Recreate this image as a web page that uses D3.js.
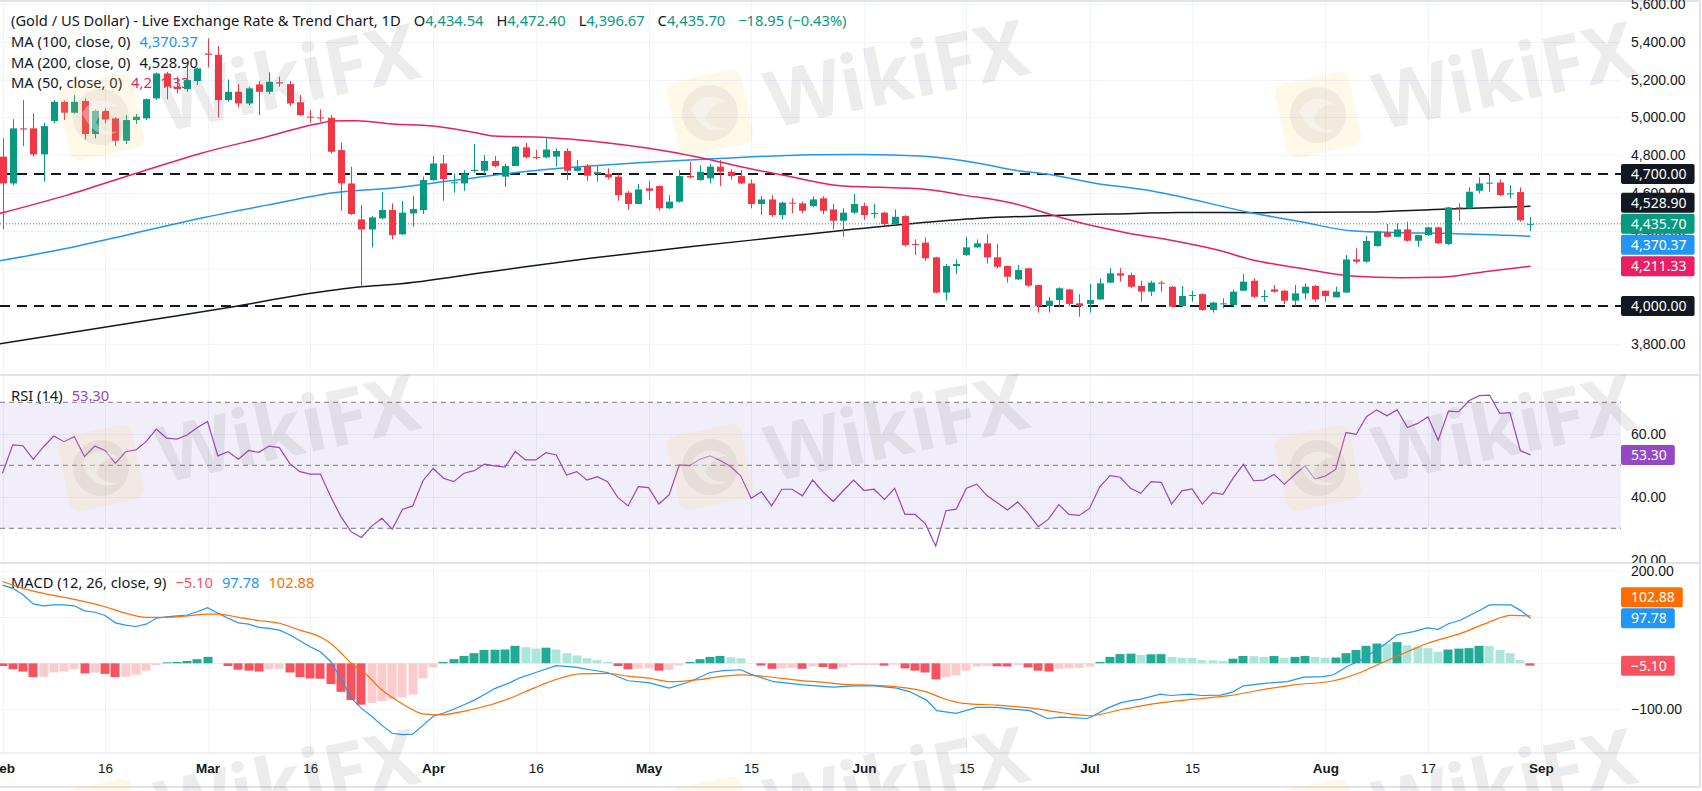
<!DOCTYPE html>
<html>
<head>
<meta charset="utf-8">
<script src="https://cdn.jsdelivr.net/npm/d3@7"></script>
<style>
  body { margin: 0; background: #fff; overflow: hidden; }
  svg { display: block; font-family: "Noto Sans", Roboto, sans-serif; }
</style>
</head>
<body>
<svg id="chart" width="1702" height="791"></svg>
<script>
// ---- data ----
// bar index 0 = Feb 2, one bar per trading day, 149 = Aug 31
const tickIdx = [0, 10, 20, 30, 42, 52, 63, 73, 84, 94, 106, 116, 129, 139, 150];
const tickLabels = ["Feb", "16", "Mar", "16", "Apr", "16", "May", "15", "Jun", "15", "Jul", "15", "Aug", "17", "Sep"];

// [open, high, low, close]
const candles = [
  [4792,4889,4406,4650],[4650,4991,4640,4942],[4942,5092,4848,4936],[4942,5021,4792,4804],[4804,4972,4659,4954],
  [4981,5092,4968,5083],[5083,5090,4986,5025],[5025,5118,5021,5083],[5087,5101,4883,4912],[4912,5042,4889,5035],
  [5035,5053,4968,4989],[4995,5000,4848,4876],[4876,5012,4859,4986],[4986,5018,4965,5004],[4995,5101,4986,5097],
  [5101,5237,5092,5233],[5233,5242,5095,5163],[5163,5216,5127,5150],[5150,5269,5136,5198],[5193,5265,5171,5260],
  [5339,5419,5265,5332],[5332,5378,5000,5092],[5092,5201,5083,5136],[5136,5177,5053,5074],[5074,5163,5065,5154],
  [5175,5194,5012,5136],[5136,5239,5124,5189],[5186,5216,5163,5180],[5177,5193,5060,5074],[5080,5118,5009,5012],
  [5004,5039,4972,5000],[5000,5042,4977,4998],[4998,5012,4809,4818],[4827,4866,4505,4650],[4650,4739,4482,4488],
  [4459,4535,4102,4406],[4406,4477,4311,4470],[4465,4606,4459,4509],[4509,4544,4353,4376],[4380,4557,4376,4495],
  [4491,4583,4420,4514],[4509,4686,4488,4668],[4668,4795,4664,4756],[4756,4800,4558,4673],[4652,4703,4601,4656],
  [4650,4721,4611,4703],[4717,4859,4707,4721],[4717,4800,4700,4769],[4769,4795,4735,4742],[4686,4753,4632,4742],
  [4742,4848,4742,4845],[4841,4866,4783,4788],[4790,4827,4777,4786],[4788,4889,4783,4830],[4792,4836,4739,4822],
  [4822,4836,4668,4717],[4717,4774,4714,4735],[4742,4753,4664,4691],[4700,4742,4659,4710],[4700,4730,4671,4682],
  [4686,4700,4558,4588],[4601,4611,4509,4541],[4541,4647,4541,4618],[4624,4664,4562,4611],[4636,4640,4505,4518],
  [4518,4588,4514,4553],[4553,4721,4548,4689],[4689,4765,4677,4682],[4668,4747,4664,4712],[4677,4753,4650,4739],
  [4739,4774,4636,4712],[4712,4724,4671,4689],[4689,4721,4647,4650],[4650,4671,4518,4541],[4541,4583,4482,4565],
  [4565,4588,4473,4482],[4482,4553,4459,4548],[4548,4571,4491,4544],[4544,4553,4491,4505],[4530,4580,4523,4565],
  [4571,4583,4486,4505],[4512,4541,4406,4452],[4452,4518,4367,4495],[4495,4594,4488,4541],[4530,4548,4456,4482],
  [4489,4541,4465,4493],[4495,4500,4429,4435],[4435,4512,4430,4473],[4477,4482,4315,4323],[4329,4353,4270,4325],
  [4336,4364,4240,4253],[4258,4261,4067,4071],[4071,4223,4028,4212],[4212,4247,4170,4223],[4270,4367,4265,4311],
  [4311,4353,4306,4332],[4332,4380,4226,4258],[4258,4329,4200,4208],[4212,4214,4124,4155],[4141,4217,4138,4191],
  [4200,4202,4102,4108],[4111,4113,3965,4000],[4000,4049,3965,4028],[4032,4099,3993,4094],[4088,4090,4000,4011],
  [4014,4063,3943,4000],[4011,4117,3965,4032],[4035,4147,4032,4120],[4124,4200,4120,4173],[4173,4200,4129,4161],
  [4164,4177,4094,4102],[4106,4134,4023,4076],[4076,4134,4053,4124],[4124,4134,4076,4120],[4102,4106,3993,3996],
  [4000,4106,3993,4053],[4053,4081,4023,4058],[4063,4067,3975,3979],[3979,4023,3965,4018],[4011,4041,3988,4014],
  [4005,4088,4000,4076],[4081,4170,4081,4129],[4134,4147,4041,4049],[4051,4085,4023,4053],[4088,4111,4071,4076],
  [4081,4085,4011,4028],[4028,4111,4000,4067],[4067,4120,4035,4102],[4106,4111,4023,4035],[4081,4081,4023,4053],
  [4046,4102,4046,4076],[4071,4270,4071,4247],[4247,4306,4226,4235],[4235,4371,4230,4345],[4318,4399,4314,4394],
  [4390,4435,4364,4367],[4367,4438,4367,4406],[4406,4447,4341,4346],[4346,4376,4314,4376],[4376,4420,4371,4417],
  [4417,4420,4329,4332],[4329,4526,4323,4523],[4523,4544,4452,4518],[4518,4629,4512,4606],[4611,4682,4597,4650],
  [4652,4700,4606,4654],[4655,4671,4583,4588],[4594,4641,4571,4597],[4604,4629,4447,4454.65],[4434.54,4472.40,4396.67,4435.70]
];

// moving averages, [bar index, value]
const ma50 = [[-0.25,4491],[6.3,4588],[12.8,4700],[19.3,4809],[25.8,4898],[30.6,4965],[32.3,4981],[34.5,4982],[38,4965],
  [42,4954],[46,4920],[48,4901],[53,4894],[58,4871],[63,4836],[68,4788],[72,4739],[76.3,4692],[81.7,4638],[84,4632],
  [90.1,4618],[93.7,4588],[98.6,4544],[102.4,4482],[106,4429],[109.9,4385],[114.2,4346],[118.5,4297],[121.7,4247],
  [126.6,4200],[131.5,4159],[136.4,4150],[140,4152],[144.5,4182],[149,4211.33]];
const ma100 = [[-0.25,4240],[6.3,4306],[12.8,4385],[19.3,4465],[25.8,4535],[32.3,4601],[38.3,4627],[44.3,4668],
  [50.8,4712],[57.3,4742],[63.8,4765],[70.3,4783],[76.3,4798],[79,4802],[84,4804],[89.5,4795],[95.3,4756],[98.6,4721],
  [101.8,4700],[106.7,4650],[111.5,4615],[114.2,4587],[121.7,4495],[126.6,4447],[131.5,4399],[136.4,4389],[141.2,4385],
  [149,4370.37]];
const ma200 = [[-0.25,3800],[14.4,3926],[22.5,3996],[29,4058],[35,4102],[38.3,4115],[47.5,4182],[57.3,4253],[67,4314],
  [76.3,4368],[82.3,4403],[88.8,4438],[95.3,4465],[101.8,4479],[108.3,4488],[114.8,4496],[123,4495],[133,4498],
  [139.6,4512],[149,4528.9]];

const levels = [4700, 4000];

// RSI(14), one value per bar
const rsi = [
  47.5,56.5,56.2,51.9,55.9,59.3,57.5,59.1,52.8,56.1, 54.7,50.6,54.3,54.9,57.5,61.5,58.6,58.3,59.6,62.0,
  63.9,53.0,54.3,51.9,54.7,54.1,56.1,55.6,50.6,48.0, 47.2,47.2,40.1,33.7,28.9,27.1,30.7,33.2,29.7,36.0,
  37.1,45.1,49.0,45.9,44.8,47.5,48.3,50.4,49.8,49.4, 54.4,51.7,51.7,54.0,53.3,46.9,48.0,45.3,46.4,44.8,
  39.8,37.1,43.2,42.9,37.7,40.6,50.1,49.9,51.9,53.0, 51.5,49.6,46.6,39.5,41.6,37.1,42.4,42.4,40.3,45.3,
  41.6,38.5,42.0,45.3,42.0,42.4,39.2,42.7,34.4,34.4, 31.4,24.4,35.6,36.1,42.7,44.0,40.4,38.1,35.8,38.4,
  34.8,30.5,32.9,37.5,34.4,34.1,36.3,43.2,46.7,46.2, 42.7,41.1,44.8,44.6,37.7,41.9,42.5,37.7,41.3,40.8,
  45.9,50.3,45.1,45.3,47.1,44.0,47.0,49.8,45.6,46.6, 48.7,60.4,59.8,65.4,67.6,65.7,67.6,62.0,63.3,65.4,
  58.0,67.2,67.0,70.5,72.1,72.3,66.5,66.7,54.7,53.3
];
const rsiLevels = [70, 50, 30];

// MACD(12,26,9)
const macdHist = [
  -6,-13,-18,-30,-29,-20,-18,-13,-22,-20, -23,-30,-29,-25,-16,-4,2,3,5,9,
  14,0.5,-6,-14,-16,-18,-13,-12.5,-20,-30, -33,-33.5,-45,-62,-80,-90,-86,-82,-78,-74,
  -68,-33,-9,3,9,16,22,29,29.5,30, 38,35,32,34,30,22,17,11,7,3,
  -6,-13,-12,-11,-16,-14,-4,3,9,14, 16,13,11,0.5,-5,-12,-11,-10,-12,-7,
  -8,-12,-9,-4,-3.8,-3.6,-5,-3,-11,-16, -20,-35,-30,-26,-16,-7,-6,-6.5,-7,-4,
  -9,-16,-18,-12,-11,-10,-7,3,14,20, 21,18,19.5,20,14,12,11.5,7,6.5,5,
  10,16,15.5,14,16,12,14,16,14,12, 12.5,22,29,38,43,42.5,46,39,36,33,
  25,30,32,33,38,37.5,29,22,7,-5.1
];
const macdLine = [[0,170],[1,163],[2,149],[3,129],[4,125],[5,127],[6,127],[7,125],[8,114],[9,111],[10,104],[11,88],
  [12,83],[13,80],[14,85],[15,98],[16,101],[17,103],[18,105],[19,112],[20,121],[21,109],[22,98],[23,88],[24,85],
  [25,78],[26,76],[27,72],[28,62],[29,49],[30,36],[31,25],[32,4],[33,-33],[34,-75],[35,-98],[36,-115],[37,-135],
  [38,-152],[39,-155],[40,-154],[41,-135],[42,-115],[43,-108],[44,-100],[45,-90],[46,-80],[47,-68],[48,-55],
  [49.5,-42],[50.5,-31],[52,-20],[54,-5],[56,-9],[57.3,-14],[59,-20],[61,-38],[63,-42],[65,-54],[67,-40],[69,-20],
  [70.3,-16],[72,-14],[73,-24],[75.2,-40],[78.1,-47],[81,-52],[83,-49],[85,-49],[87.2,-54],[88.5,-62],[90.1,-80],
  [91.1,-103],[93,-109],[95,-96],[97,-96],[98.2,-99],[100.2,-103],[101.9,-120],[103.2,-117],[105.8,-120],
  [106.4,-114],[107.7,-98],[109,-86],[110,-81],[111,-78],[112.9,-67],[113.9,-70],[115.8,-67],[116.8,-70],
  [118.8,-69],[120,-62],[121,-49],[123.3,-43],[125.3,-40],[126.9,-30],[128.8,-29],[129.8,-25],[131.1,-7],
  [132.4,6],[133.7,25],[134.7,40],[136,62],[137.6,69],[138.9,77],[140,74],[141,86],[142.2,94],[144.2,117],
  [145,127],[147.1,127],[148.1,114],[149,97.78]];
const signalLine = [[0,178],[2,163],[4,152],[7,139],[10,123],[12,109],[14,100],[16,100],[18,103],[20,107],[21,107],
  [23,100],[25,93],[27,87],[29,72],[31,57],[32,43],[33,23],[34,0],[35.5,-25],[37,-58],[38,-74],[39.5,-95],[41,-110],
  [42.6,-112],[45.7,-101],[49.5,-76],[51.8,-54],[54,-35],[56.3,-23],[59,-22],[61,-28],[63.2,-33],[65.1,-40],
  [67.7,-36],[70.3,-28],[72.2,-25],[74,-28],[78.1,-38],[80,-41],[82,-46],[85.2,-48],[87.2,-51],[90.1,-62],
  [91.7,-76],[93.7,-87],[97,-91],[100.2,-97],[103.2,-107],[106.1,-114],[109,-101],[112.9,-86],[116.2,-78],
  [119.4,-71],[122.7,-58],[125.9,-47],[129.8,-38],[132.4,-20],[134.4,0],[137,25],[138.9,43],[142.2,65],
  [144.8,88],[147.1,104],[149,102.88]];

// ---- layout ----
const W = 1702, H = 791;
const plotR = 1621;          // right edge of the plot, price scale starts here
const axisX = 1631;
const panes = { price: [0, 375], rsi: [375, 563], macd: [563, 753] };
const LEG = 14.7;            // legend font size

const UP = "#089981", DOWN = "#f23645";
const C_MA50 = "#e91e63", C_MA100 = "#2196f3", C_MA200 = "#131722";
const C_RSI = "#9448c4", C_MACD = "#2196f3", C_SIG = "#ff6d00";
const GRID = "#f0f3fa", BORDER = "#e0e3eb", TXT = "#131722";

const svg = d3.select("#chart");

const x = d3.scaleLinear().domain([0, 150]).range([2.5, 1540.75]);
const yP = d3.scaleLinear().domain([3800, 5600]).range([343.7, 4.3]);
const yR = d3.scaleLinear().domain([30, 70]).range([528.3, 402.3]);
const yM = d3.scaleLinear().domain([-100, 200]).range([709.3, 571.3]);

const defs = svg.append("defs");
function clip(id, x0, y0, w, h) {
  defs.append("clipPath").attr("id", id).append("rect").attr("x", x0).attr("y", y0).attr("width", w).attr("height", h);
  return "url(#" + id + ")";
}
const clipP = clip("cp", 0, 0, plotR, panes.price[1]);
const clipR = clip("cr", 0, panes.rsi[0], plotR, panes.rsi[1] - panes.rsi[0]);
const clipM = clip("cm", 0, panes.macd[0], plotR, panes.macd[1] - panes.macd[0]);
const clipPA = clip("cpa", plotR, 0, W - plotR, panes.price[1]);
const clipRA = clip("cra", plotR, panes.rsi[0], W - plotR, panes.rsi[1] - panes.rsi[0]);
const clipMA = clip("cma", plotR, panes.macd[0], W - plotR, panes.macd[1] - panes.macd[0]);

// ---- grid ----
const grid = svg.append("g").attr("stroke", GRID).attr("stroke-width", 1);
grid.selectAll("line.v").data(tickIdx).join("line")
  .attr("x1", d => Math.round(x(d)) + 0.5).attr("x2", d => Math.round(x(d)) + 0.5)
  .attr("y1", 0).attr("y2", panes.macd[1]);
const pGrid = d3.range(3800, 5601, 200);
grid.append("g").attr("clip-path", clipP).selectAll("line").data(pGrid).join("line")
  .attr("x1", 0).attr("x2", plotR).attr("y1", d => Math.round(yP(d)) + 0.5).attr("y2", d => Math.round(yP(d)) + 0.5);
grid.append("g").selectAll("line").data([60, 40]).join("line")
  .attr("x1", 0).attr("x2", plotR).attr("y1", d => Math.round(yR(d)) + 0.5).attr("y2", d => Math.round(yR(d)) + 0.5);
grid.append("g").selectAll("line").data([200, 100, 0, -100]).join("line")
  .attr("x1", 0).attr("x2", plotR).attr("y1", d => Math.round(yM(d)) + 0.5).attr("y2", d => Math.round(yM(d)) + 0.5);

// ---- legend (drawn under the candles, as in the picture) ----
const last = candles[candles.length - 1];
const prevClose = candles[candles.length - 2][3];
const chg = last[3] - prevClose;
const f2 = d3.format(",.2f");
const fmtSigned = v => (v < 0 ? "\u2212" : "") + d3.format(",.2f")(Math.abs(v));

const legend = svg.append("g").attr("font-size", LEG).attr("fill", TXT);
const head = legend.append("text").attr("x", 11).attr("y", 26);
head.append("tspan").text("(Gold / US Dollar) - Live Exchange Rate & Trend Chart, 1D");
[["O", last[0]], ["H", last[1]], ["L", last[2]], ["C", last[3]]].forEach(([k, v]) => {
  head.append("tspan").attr("dx", 13).text(k);
  head.append("tspan").attr("fill", UP).text(f2(v));
});
head.append("tspan").attr("dx", 13).attr("fill", UP)
  .text(fmtSigned(chg) + " (" + fmtSigned(chg / prevClose * 100) + "%)");

const maRows = [
  ["MA (100, close, 0)", ma100, C_MA100],
  ["MA (200, close, 0)", ma200, C_MA200],
  ["MA (50, close, 0)", ma50, C_MA50]
];
maRows.forEach(([label, arr, col], k) => {
  const t = legend.append("text").attr("x", 11).attr("y", 47 + k * 20.7);
  t.append("tspan").text(label);
  t.append("tspan").attr("dx", 9).attr("fill", col).text(f2(arr[arr.length - 1][1]));
});

const rsiLeg = legend.append("text").attr("x", 11).attr("y", 401);
rsiLeg.append("tspan").text("RSI (14)");
rsiLeg.append("tspan").attr("dx", 9).attr("fill", C_RSI).text(d3.format(".2f")(rsi[rsi.length - 1]));

const macdLeg = legend.append("text").attr("x", 11).attr("y", 588);
macdLeg.append("tspan").text("MACD (12, 26, close, 9)");
macdLeg.append("tspan").attr("dx", 9).attr("fill", "#f7525f").text(d3.format(".2f")(macdHist[macdHist.length - 1]));
macdLeg.append("tspan").attr("dx", 9).attr("fill", C_MACD).text(d3.format(".2f")(macdLine[macdLine.length - 1][1]));
macdLeg.append("tspan").attr("dx", 9).attr("fill", C_SIG).text(d3.format(".2f")(signalLine[signalLine.length - 1][1]));

// ---- price pane ----
const pg = svg.append("g").attr("clip-path", clipP);

pg.selectAll("line.lvl").data(levels).join("line")
  .attr("x1", 0).attr("x2", plotR).attr("y1", d => yP(d)).attr("y2", d => yP(d))
  .attr("stroke", "#131722").attr("stroke-width", 2).attr("stroke-dasharray", "10,7");

const maLine = d3.line().x(d => x(d[0])).y(d => yP(d[1])).curve(d3.curveMonotoneX);
[[ma200, C_MA200], [ma100, C_MA100], [ma50, C_MA50]].forEach(([arr, col]) => {
  pg.append("path").attr("d", maLine(arr)).attr("fill", "none").attr("stroke", col).attr("stroke-width", 1.5);
});

pg.append("line").attr("x1", 0).attr("x2", plotR)
  .attr("y1", yP(last[3])).attr("y2", yP(last[3]))
  .attr("stroke", UP).attr("stroke-width", 1).attr("stroke-dasharray", "1,2");

const cg = pg.selectAll("g.c").data(candles).join("g")
  .attr("fill", d => d[3] >= d[0] ? UP : DOWN).attr("stroke", d => d[3] >= d[0] ? UP : DOWN);
cg.append("line")
  .attr("x1", (d, i) => Math.round(x(i)) + 0.5).attr("x2", (d, i) => Math.round(x(i)) + 0.5)
  .attr("y1", d => yP(d[1])).attr("y2", d => yP(d[2])).attr("stroke-width", 1);
cg.append("rect")
  .attr("x", (d, i) => Math.round(x(i)) - 3).attr("width", 7)
  .attr("y", d => yP(Math.max(d[0], d[3])))
  .attr("height", d => Math.max(1, yP(Math.min(d[0], d[3])) - yP(Math.max(d[0], d[3]))))
  .attr("stroke", "none");

// ---- RSI pane ----
const rg = svg.append("g").attr("clip-path", clipR);
rg.append("rect").attr("x", 0).attr("width", plotR)
  .attr("y", yR(70)).attr("height", yR(30) - yR(70)).attr("fill", "rgba(126,87,194,0.1)");
rg.selectAll("line.l").data(rsiLevels).join("line")
  .attr("x1", 0).attr("x2", plotR).attr("y1", d => yR(d)).attr("y2", d => yR(d))
  .attr("stroke", "#787b86").attr("stroke-dasharray", "5,4");
rg.append("path").datum(rsi)
  .attr("d", d3.line().x((d, i) => x(i)).y(d => yR(d)))
  .attr("fill", "none").attr("stroke", C_RSI).attr("stroke-width", 1.2);

// ---- MACD pane ----
const mg = svg.append("g").attr("clip-path", clipM);
mg.selectAll("rect").data(macdHist).join("rect")
  .attr("x", (d, i) => Math.round(x(i)) - 4.5).attr("width", 9)
  .attr("y", d => Math.min(yM(d), yM(0)))
  .attr("height", d => Math.abs(yM(d) - yM(0)))
  .attr("fill", (d, i) => {
    const p = i > 0 ? macdHist[i - 1] : null;
    if (d >= 0) return (p === null || d > p) ? "#22ab94" : "#ace5dc";
    return (p === null || d < p) ? "#f7525f" : "#fccbcd";
  });
const mLine = d3.line().x(d => x(d[0])).y(d => yM(d[1]));
mg.append("path").attr("d", mLine(macdLine)).attr("fill", "none").attr("stroke", C_MACD).attr("stroke-width", 1.2);
mg.append("path").attr("d", mLine.curve(d3.curveMonotoneX)(signalLine)).attr("fill", "none").attr("stroke", C_SIG).attr("stroke-width", 1.2);

// ---- pane borders ----
const frame = svg.append("g").attr("stroke", BORDER).attr("stroke-width", 2);
frame.append("line").attr("x1", 0).attr("x2", W - 2).attr("y1", panes.rsi[0]).attr("y2", panes.rsi[0]);
frame.append("line").attr("x1", 0).attr("x2", W - 2).attr("y1", panes.macd[0]).attr("y2", panes.macd[0]);
frame.append("line").attr("x1", 0).attr("x2", W - 2).attr("y1", panes.macd[1]).attr("y2", panes.macd[1]).attr("stroke-width", 1);
frame.append("line").attr("x1", 0).attr("x2", W - 2).attr("y1", 1).attr("y2", 1);
frame.append("line").attr("x1", 0).attr("x2", W - 2).attr("y1", 787).attr("y2", 787);
frame.append("line").attr("x1", W - 2).attr("x2", W - 2).attr("y1", 1).attr("y2", 787);

// ---- right scales ----
function rightAxis(scale, ticks, clipUrl) {
  const g = svg.append("g").attr("clip-path", clipUrl).append("g")
    .attr("transform", "translate(" + axisX + ",0)")
    .call(d3.axisRight(scale).tickValues(ticks).tickSize(0).tickPadding(0).tickFormat(d3.format(",.2f")));
  g.select(".domain").remove();
  g.selectAll("text").attr("font-size", 14).attr("fill", TXT).attr("font-family", null);
}
rightAxis(yP, pGrid, clipPA);
rightAxis(yR, [20, 40, 60], clipRA);
rightAxis(yM, [-100, 0, 100, 200], clipMA);

// value tags on the scale; the anchored tag stays, others are pushed away from it
function tags(list, scale, anchor) {
  const items = list.map(d => ({ ...d, y: scale(d.v) })).sort((a, b) => a.y - b.y);
  const a = items.findIndex(d => d.v === anchor);
  for (let i = a - 1; i >= 0; i--) items[i].y = Math.min(items[i].y, items[i + 1].y - 21);
  for (let i = a + 1; i < items.length; i++) items[i].y = Math.max(items[i].y, items[i - 1].y + 21);
  const g = svg.append("g").selectAll("g").data(items).join("g")
    .attr("transform", d => "translate(" + plotR + "," + d.y + ")");
  g.append("text").attr("x", axisX - plotR).attr("dy", "0.35em")
    .attr("font-size", 14).attr("fill", "#fff").text(d => d.label);
  g.insert("rect", "text").attr("x", 0).attr("y", -10).attr("height", 20).attr("rx", 2)
    .attr("width", function () { return this.parentNode.querySelector("text").getComputedTextLength() + 18; })
    .attr("fill", d => d.bg);
}
const priceTagVals = [levels[0], ma200[ma200.length - 1][1], last[3], ma100[ma100.length - 1][1], ma50[ma50.length - 1][1], levels[1]];
const priceTagCols = ["#131722", "#131722", UP, C_MA100, C_MA50, "#131722"];
tags(priceTagVals.map((v, i) => ({ v, label: f2(v), bg: priceTagCols[i] })), yP, last[3]);
tags([{ v: rsi[rsi.length - 1], label: d3.format(".2f")(rsi[rsi.length - 1]), bg: C_RSI }], yR, rsi[rsi.length - 1]);
const mVals = [signalLine[signalLine.length - 1][1], macdLine[macdLine.length - 1][1], macdHist[macdHist.length - 1]];
tags(mVals.map((v, i) => ({ v, label: d3.format(".2f")(v), bg: [C_SIG, C_MACD, "#f7525f"][i] })), yM, mVals[1]);

// ---- time axis ----
const xa = svg.append("g").attr("transform", "translate(0,763)")
  .call(d3.axisBottom(x).tickValues(tickIdx).tickSize(0).tickPadding(0).tickFormat((d, i) => tickLabels[i]));
xa.select(".domain").remove();
xa.selectAll("text").attr("font-size", 13.5).attr("fill", TXT).attr("font-family", null)
  .attr("font-weight", (d, i) => isNaN(+tickLabels[i]) ? "bold" : null);

// ---- WikiFX watermark ----
const wm = svg.append("g").attr("pointer-events", "none");
[[101, 117], [710, 113], [1318, 115], [101, 468], [710, 467], [1318, 468], [101, 822], [710, 820], [1318, 822]]
  .forEach(([cx, cy]) => {
    const g = wm.append("g").attr("transform", "translate(" + cx + "," + cy + ") rotate(-12)");
    g.append("rect").attr("x", -38).attr("y", -38).attr("width", 76).attr("height", 76).attr("rx", 10)
      .attr("fill", "rgba(250,205,110,0.15)");
    g.append("circle").attr("r", 28).attr("fill", "rgba(110,100,100,0.09)");
    g.append("path").attr("d", "M-18,-8 Q0,-26 20,-6 Q6,-12 -6,4 Q-2,16 14,18 Q-10,24 -18,-8Z")
      .attr("fill", "rgba(255,255,255,0.35)");
    g.append("text").attr("x", 58).attr("y", 28).attr("font-size", 78).attr("font-weight", "bold")
      .attr("fill", "rgba(110,100,100,0.12)").text("WikiFX");
  });
</script>
</body>
</html>
